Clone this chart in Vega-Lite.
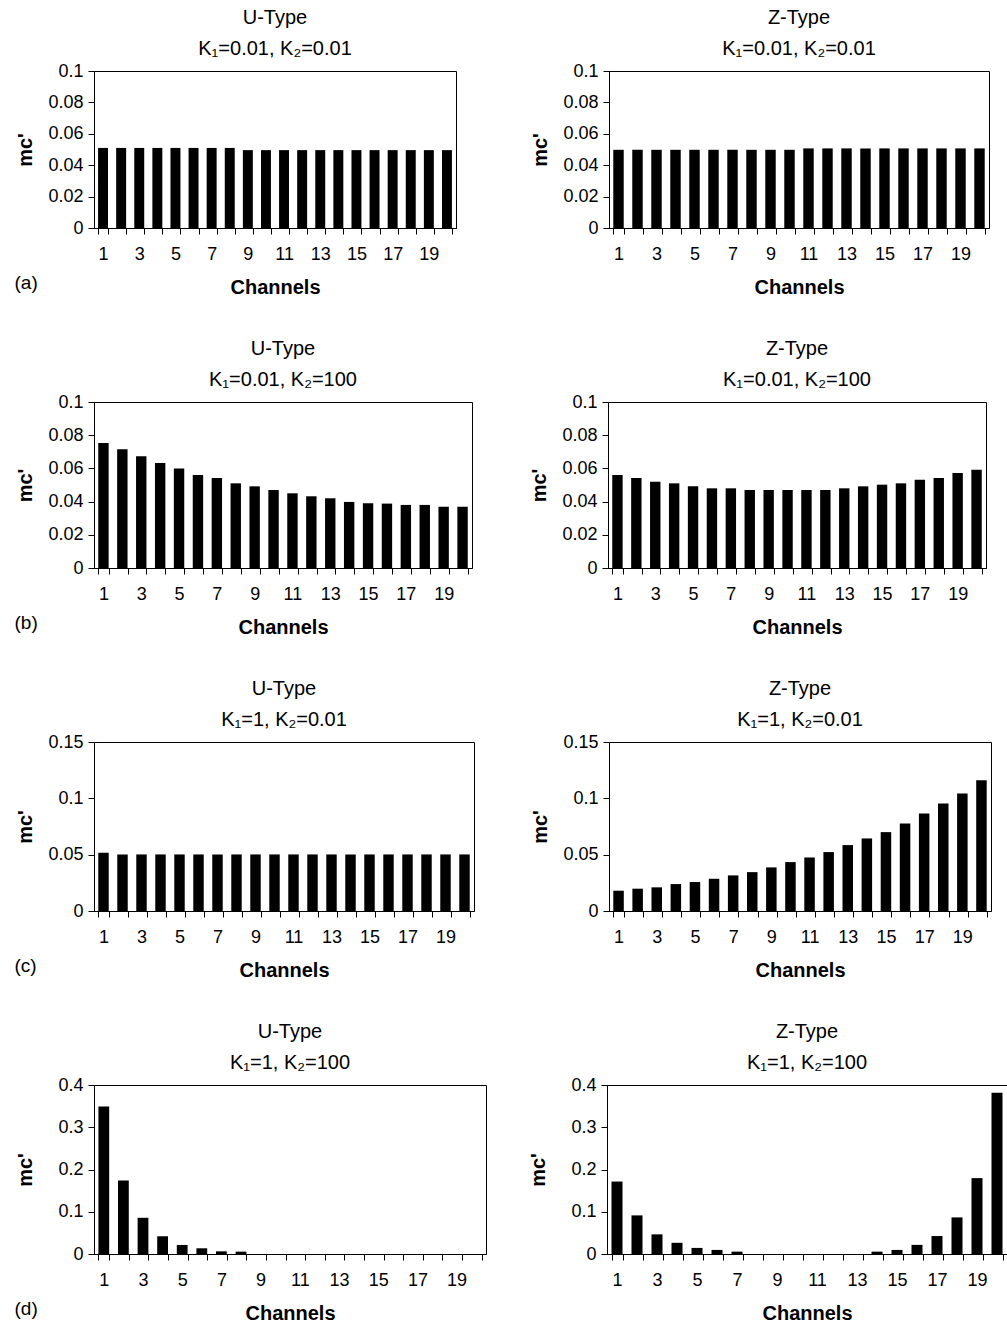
{
  "$schema": "https://vega.github.io/schema/vega-lite/v6.json",
  "padding": {"left": 14, "top": 7, "right": 0, "bottom": 0},
  "background": "white",
  "datasets": {
    "ua": [{"channel":1,"value":0.051},{"channel":2,"value":0.051},{"channel":3,"value":0.051},{"channel":4,"value":0.051},{"channel":5,"value":0.051},{"channel":6,"value":0.051},{"channel":7,"value":0.051},{"channel":8,"value":0.051},{"channel":9,"value":0.0496},{"channel":10,"value":0.0496},{"channel":11,"value":0.0496},{"channel":12,"value":0.0496},{"channel":13,"value":0.0496},{"channel":14,"value":0.0496},{"channel":15,"value":0.0496},{"channel":16,"value":0.0496},{"channel":17,"value":0.0496},{"channel":18,"value":0.0496},{"channel":19,"value":0.0496},{"channel":20,"value":0.0496}],
    "za": [{"channel":1,"value":0.0498},{"channel":2,"value":0.0498},{"channel":3,"value":0.0498},{"channel":4,"value":0.0498},{"channel":5,"value":0.0498},{"channel":6,"value":0.0498},{"channel":7,"value":0.0498},{"channel":8,"value":0.0498},{"channel":9,"value":0.0498},{"channel":10,"value":0.0498},{"channel":11,"value":0.0507},{"channel":12,"value":0.0507},{"channel":13,"value":0.0507},{"channel":14,"value":0.0507},{"channel":15,"value":0.0507},{"channel":16,"value":0.0507},{"channel":17,"value":0.0507},{"channel":18,"value":0.0507},{"channel":19,"value":0.0507},{"channel":20,"value":0.0507}],
    "ub": [{"channel":1,"value":0.0753},{"channel":2,"value":0.0715},{"channel":3,"value":0.0673},{"channel":4,"value":0.0633},{"channel":5,"value":0.06},{"channel":6,"value":0.056},{"channel":7,"value":0.0542},{"channel":8,"value":0.051},{"channel":9,"value":0.0492},{"channel":10,"value":0.047},{"channel":11,"value":0.045},{"channel":12,"value":0.0432},{"channel":13,"value":0.042},{"channel":14,"value":0.0398},{"channel":15,"value":0.039},{"channel":16,"value":0.0388},{"channel":17,"value":0.038},{"channel":18,"value":0.038},{"channel":19,"value":0.0369},{"channel":20,"value":0.0369}],
    "zb": [{"channel":1,"value":0.056},{"channel":2,"value":0.0542},{"channel":3,"value":0.052},{"channel":4,"value":0.051},{"channel":5,"value":0.0492},{"channel":6,"value":0.048},{"channel":7,"value":0.048},{"channel":8,"value":0.047},{"channel":9,"value":0.047},{"channel":10,"value":0.047},{"channel":11,"value":0.047},{"channel":12,"value":0.047},{"channel":13,"value":0.048},{"channel":14,"value":0.0492},{"channel":15,"value":0.0502},{"channel":16,"value":0.051},{"channel":17,"value":0.0532},{"channel":18,"value":0.0542},{"channel":19,"value":0.0572},{"channel":20,"value":0.0592}],
    "uc": [{"channel":1,"value":0.0517},{"channel":2,"value":0.0502},{"channel":3,"value":0.0502},{"channel":4,"value":0.0502},{"channel":5,"value":0.0502},{"channel":6,"value":0.0502},{"channel":7,"value":0.0502},{"channel":8,"value":0.0502},{"channel":9,"value":0.0502},{"channel":10,"value":0.0502},{"channel":11,"value":0.0502},{"channel":12,"value":0.0502},{"channel":13,"value":0.0502},{"channel":14,"value":0.0502},{"channel":15,"value":0.0502},{"channel":16,"value":0.0502},{"channel":17,"value":0.0502},{"channel":18,"value":0.0502},{"channel":19,"value":0.0502},{"channel":20,"value":0.0502}],
    "zc": [{"channel":1,"value":0.018},{"channel":2,"value":0.0198},{"channel":3,"value":0.021},{"channel":4,"value":0.0239},{"channel":5,"value":0.0257},{"channel":6,"value":0.0286},{"channel":7,"value":0.0316},{"channel":8,"value":0.0345},{"channel":9,"value":0.0387},{"channel":10,"value":0.0434},{"channel":11,"value":0.0475},{"channel":12,"value":0.0523},{"channel":13,"value":0.0585},{"channel":14,"value":0.0644},{"channel":15,"value":0.07},{"channel":16,"value":0.0776},{"channel":17,"value":0.0865},{"channel":18,"value":0.0954},{"channel":19,"value":0.1042},{"channel":20,"value":0.116}],
    "ud": [{"channel":1,"value":0.349},{"channel":2,"value":0.174},{"channel":3,"value":0.0857},{"channel":4,"value":0.042},{"channel":5,"value":0.0214},{"channel":6,"value":0.0135},{"channel":7,"value":0.0063},{"channel":8,"value":0.0056},{"channel":9,"value":0},{"channel":10,"value":0},{"channel":11,"value":0},{"channel":12,"value":0},{"channel":13,"value":0},{"channel":14,"value":0},{"channel":15,"value":0},{"channel":16,"value":0},{"channel":17,"value":0},{"channel":18,"value":0},{"channel":19,"value":0},{"channel":20,"value":0}],
    "zd": [{"channel":1,"value":0.1715},{"channel":2,"value":0.0914},{"channel":3,"value":0.0465},{"channel":4,"value":0.0265},{"channel":5,"value":0.0144},{"channel":6,"value":0.0096},{"channel":7,"value":0.0056},{"channel":8,"value":0},{"channel":9,"value":0},{"channel":10,"value":0},{"channel":11,"value":0},{"channel":12,"value":0},{"channel":13,"value":0},{"channel":14,"value":0.0056},{"channel":15,"value":0.0096},{"channel":16,"value":0.0216},{"channel":17,"value":0.0425},{"channel":18,"value":0.0866},{"channel":19,"value":0.1796},{"channel":20,"value":0.3816}]
  },
  "vconcat": [
    {
      "spacing": 72,
      "title": {"text": "(a)", "orient": "bottom", "anchor": "start", "offset": -24, "fontSize": 19, "fontWeight": "normal"},
      "hconcat": [
        {"width": 362, "height": 157, "title": {"text": ["U-Type", "K₁=0.01, K₂=0.01"]}, "data": {"name": "ua"}, "mark": {"type": "bar", "color": "black"},
         "encoding": {"x": {"field": "channel", "type": "ordinal", "scale": {"paddingInner": 0.45, "paddingOuter": 0.225}, "axis": {"title": "Channels"}},
                      "y": {"field": "value", "type": "quantitative", "scale": {"domain": [0, 0.1]}, "axis": {"title": "mc'", "values": [0, 0.02, 0.04, 0.06, 0.08, 0.1]}}}},
        {"width": 380, "height": 157, "title": {"text": ["Z-Type", "K₁=0.01, K₂=0.01"]}, "data": {"name": "za"}, "mark": {"type": "bar", "color": "black"},
         "encoding": {"x": {"field": "channel", "type": "ordinal", "scale": {"paddingInner": 0.45, "paddingOuter": 0.225}, "axis": {"title": "Channels"}},
                      "y": {"field": "value", "type": "quantitative", "scale": {"domain": [0, 0.1]}, "axis": {"title": "mc'", "values": [0, 0.02, 0.04, 0.06, 0.08, 0.1]}}}}
      ]
    },
    {
      "spacing": 55,
      "title": {"text": "(b)", "orient": "bottom", "anchor": "start", "offset": -24, "fontSize": 19, "fontWeight": "normal"},
      "hconcat": [
        {"width": 378, "height": 166, "title": {"text": ["U-Type", "K₁=0.01, K₂=100"]}, "data": {"name": "ub"}, "mark": {"type": "bar", "color": "black"},
         "encoding": {"x": {"field": "channel", "type": "ordinal", "scale": {"paddingInner": 0.45, "paddingOuter": 0.225}, "axis": {"title": "Channels"}},
                      "y": {"field": "value", "type": "quantitative", "scale": {"domain": [0, 0.1]}, "axis": {"title": "mc'", "values": [0, 0.02, 0.04, 0.06, 0.08, 0.1]}}}},
        {"width": 378, "height": 166, "title": {"text": ["Z-Type", "K₁=0.01, K₂=100"]}, "data": {"name": "zb"}, "mark": {"type": "bar", "color": "black"},
         "encoding": {"x": {"field": "channel", "type": "ordinal", "scale": {"paddingInner": 0.45, "paddingOuter": 0.225}, "axis": {"title": "Channels"}},
                      "y": {"field": "value", "type": "quantitative", "scale": {"domain": [0, 0.1]}, "axis": {"title": "mc'", "values": [0, 0.02, 0.04, 0.06, 0.08, 0.1]}}}}
      ]
    },
    {
      "spacing": 54,
      "title": {"text": "(c)", "orient": "bottom", "anchor": "start", "offset": -24, "fontSize": 19, "fontWeight": "normal"},
      "hconcat": [
        {"width": 380, "height": 169, "title": {"text": ["U-Type", "K₁=1, K₂=0.01"]}, "data": {"name": "uc"}, "mark": {"type": "bar", "color": "black"},
         "encoding": {"x": {"field": "channel", "type": "ordinal", "scale": {"paddingInner": 0.45, "paddingOuter": 0.225}, "axis": {"title": "Channels"}},
                      "y": {"field": "value", "type": "quantitative", "scale": {"domain": [0, 0.15]}, "axis": {"title": "mc'", "values": [0, 0.05, 0.1, 0.15]}}}},
        {"width": 382, "height": 169, "title": {"text": ["Z-Type", "K₁=1, K₂=0.01"]}, "data": {"name": "zc"}, "mark": {"type": "bar", "color": "black"},
         "encoding": {"x": {"field": "channel", "type": "ordinal", "scale": {"paddingInner": 0.45, "paddingOuter": 0.225}, "axis": {"title": "Channels"}},
                      "y": {"field": "value", "type": "quantitative", "scale": {"domain": [0, 0.15]}, "axis": {"title": "mc'", "values": [0, 0.05, 0.1, 0.15]}}}}
      ]
    },
    {
      "spacing": 40,
      "title": {"text": "(d)", "orient": "bottom", "anchor": "start", "offset": -24, "fontSize": 19, "fontWeight": "normal"},
      "hconcat": [
        {"width": 392, "height": 169, "title": {"text": ["U-Type", "K₁=1, K₂=100"]}, "data": {"name": "ud"}, "mark": {"type": "bar", "color": "black"},
         "encoding": {"x": {"field": "channel", "type": "ordinal", "scale": {"paddingInner": 0.45, "paddingOuter": 0.225}, "axis": {"title": "Channels"}},
                      "y": {"field": "value", "type": "quantitative", "scale": {"domain": [0, 0.4]}, "axis": {"title": "mc'", "values": [0, 0.1, 0.2, 0.3, 0.4]}}}},
        {"width": 400, "height": 169, "title": {"text": ["Z-Type", "K₁=1, K₂=100"]}, "data": {"name": "zd"}, "mark": {"type": "bar", "color": "black"},
         "encoding": {"x": {"field": "channel", "type": "ordinal", "scale": {"paddingInner": 0.45, "paddingOuter": 0.225}, "axis": {"title": "Channels"}},
                      "y": {"field": "value", "type": "quantitative", "scale": {"domain": [0, 0.4]}, "axis": {"title": "mc'", "values": [0, 0.1, 0.2, 0.3, 0.4]}}}}
      ]
    }
  ],
  "spacing": 40,
  "config": {
    "font": "Liberation Sans",
    "view": {"stroke": "black", "strokeWidth": 1},
    "axis": {"domainColor": "black", "tickColor": "black", "labelColor": "black", "titleColor": "black", "labelFontSize": 18, "titleFontSize": 20, "titleFontWeight": "bold", "grid": false, "tickSize": 6, "labelPadding": 5, "labelFont": "Liberation Sans", "titleFont": "Liberation Sans"},
    "axisX": {"titlePadding": 14, "labelPadding": 11, "labelAngle": 0, "tickBand": "extent", "labelExpr": "datum.value % 2 == 1 ? datum.label : ''"},
    "axisY": {"titlePadding": 10, "minExtent": 49, "format": ".2~f"},
    "title": {"fontSize": 20, "fontWeight": "normal", "lineHeight": 31, "offset": 3, "color": "black", "font": "Liberation Sans"}
  }
}
